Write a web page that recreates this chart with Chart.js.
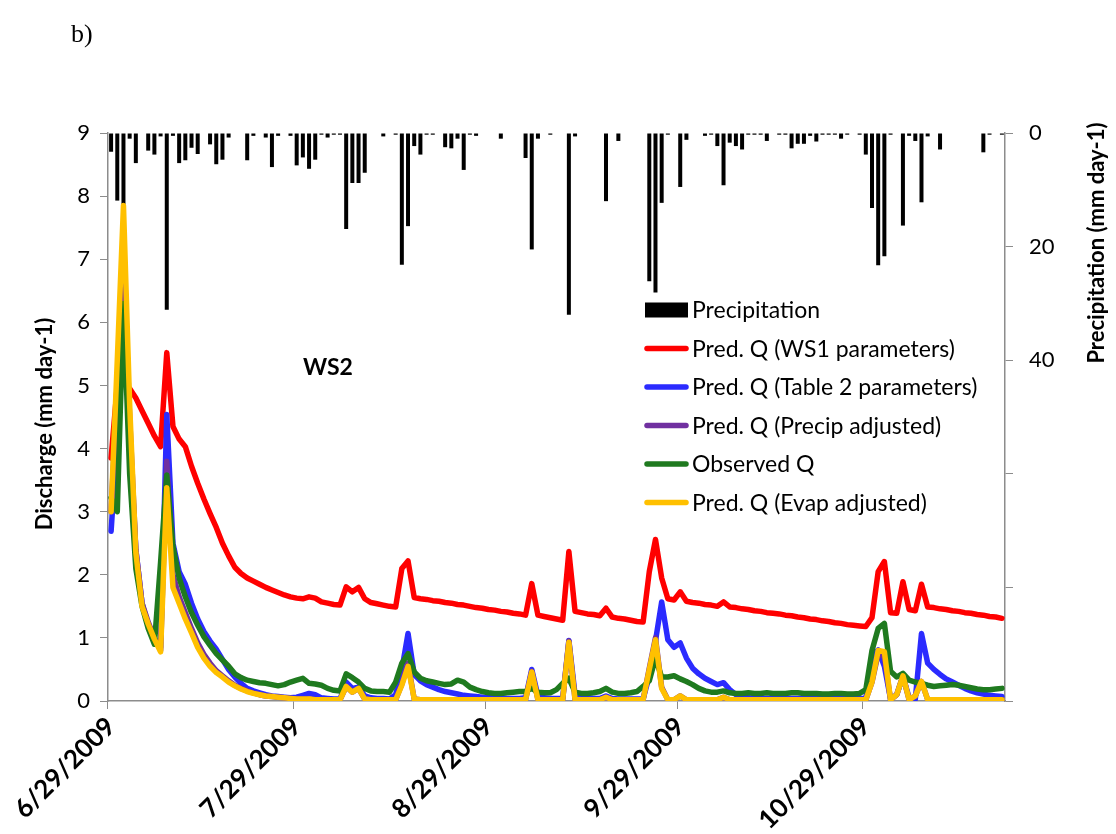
<!DOCTYPE html>
<html>
<head>
<meta charset="utf-8">
<script src="https://cdn.jsdelivr.net/npm/chart.js@4.4.1/dist/chart.umd.min.js"></script>
<style>
  body { margin: 0; background: #fff; }
  #wrap { position: relative; width: 1116px; height: 834px; }
</style>
</head>
<body>
<div id="wrap"><canvas id="chart"></canvas></div>
<script>
// daily series, 6/29/2009 (day 0) to 11/20/2009 (day 144)
const startYear = 2009, startMonth = 5, startDay = 29;
const tickLabels = ['6/29/2009', '7/29/2009', '8/29/2009', '9/29/2009', '10/29/2009'];

const precip = [
  3.3, 11.9, 12.6, 1.0, 5.3, 0, 3.1, 3.8, 0.6, 31.1,
  0.5, 5.3, 4.8, 2.6, 3.7, 0, 2.0, 5.5, 4.7, 0.8,
  0, 0, 4.8, 0.5, 0, 0.8, 6.0, 0.5, 0, 0.5,
  5.7, 4.3, 6.3, 4.7, 0.3, 0.8, 0.3, 0.3, 16.9, 8.8,
  8.8, 7.0, 0, 0, 0.6, 0, 0.3, 23.2, 16.4, 2.3,
  3.8, 0.3, 0.3, 0, 2.5, 2.7, 1.0, 6.5, 0.3, 0.5,
  0, 0, 0, 1.0, 0, 0, 0, 4.4, 20.5, 1.0,
  0, 0.3, 0, 0, 32.0, 0.6, 0, 0, 0, 0,
  12.0, 0, 1.4, 0, 0, 0, 0, 26.1, 28.1, 12.3,
  0.3, 0, 9.5, 1.2, 0, 0, 0.5, 0.3, 2.3, 9.2,
  1.7, 2.3, 2.9, 0.3, 0.3, 0.3, 1.4, 0, 0.3, 0.3,
  2.7, 1.9, 1.9, 0.5, 1.5, 0.3, 0.3, 0.3, 1.0, 0.3,
  0, 0.3, 3.8, 13.2, 23.3, 21.7, 0.3, 0, 16.3, 0.5,
  1.4, 12.2, 0.6, 0, 2.9, 0, 0, 0, 0, 0,
  0, 3.4, 0.3, 0, 0.3
];

const predWS1 = [
  3.85, 5.0, 5.05, 4.95, 4.8, 4.6, 4.4, 4.2, 4.03, 5.52,
  4.35, 4.15, 4.03, 3.72, 3.45, 3.2, 2.97, 2.75, 2.5, 2.3,
  2.12, 2.02, 1.95, 1.9, 1.85, 1.8, 1.76, 1.72, 1.68, 1.65,
  1.63, 1.62, 1.65, 1.63, 1.57, 1.55, 1.53, 1.52, 1.81, 1.73,
  1.8, 1.62, 1.56, 1.54, 1.52, 1.5, 1.49, 2.1, 2.22, 1.64,
  1.62, 1.61, 1.59, 1.58, 1.56, 1.55, 1.53, 1.52, 1.5, 1.48,
  1.47, 1.45, 1.44, 1.42, 1.41, 1.39, 1.38, 1.36, 1.86, 1.36,
  1.34, 1.32, 1.3, 1.28, 2.37, 1.42, 1.4, 1.38, 1.37, 1.35,
  1.47, 1.33, 1.31, 1.3, 1.28, 1.26, 1.25, 2.05, 2.56, 1.95,
  1.62, 1.6, 1.73, 1.58, 1.56, 1.55, 1.53, 1.52, 1.5, 1.57,
  1.49, 1.48, 1.46, 1.45, 1.43, 1.42, 1.4, 1.39, 1.38, 1.36,
  1.35, 1.33, 1.32, 1.3, 1.29, 1.27, 1.26, 1.24, 1.23, 1.21,
  1.2, 1.19, 1.18, 1.32, 2.05, 2.21, 1.4, 1.39, 1.89, 1.45,
  1.43, 1.85, 1.49, 1.48, 1.46, 1.45, 1.43, 1.42, 1.4, 1.39,
  1.37, 1.36, 1.34, 1.33, 1.31
];

const predTable2 = [
  2.69, 4.2, 6.3, 4.2, 2.4, 1.55, 1.2, 0.95, 0.85, 4.54,
  2.5, 2.05, 1.85, 1.55, 1.3, 1.1, 0.95, 0.82, 0.66, 0.5,
  0.38, 0.28, 0.2, 0.16, 0.13, 0.1, 0.08, 0.07, 0.06, 0.05,
  0.06, 0.09, 0.12, 0.1, 0.05, 0.04, 0.03, 0.03, 0.3, 0.2,
  0.22, 0.08, 0.05, 0.04, 0.04, 0.03, 0.1, 0.5, 1.07, 0.42,
  0.32, 0.26, 0.22, 0.18, 0.15, 0.13, 0.11, 0.09, 0.08, 0.07,
  0.06, 0.05, 0.05, 0.05, 0.04, 0.04, 0.04, 0.05, 0.5, 0.08,
  0.05, 0.04, 0.04, 0.04, 0.96, 0.1, 0.06, 0.05, 0.04, 0.04,
  0.08, 0.04, 0.03, 0.03, 0.03, 0.03, 0.03, 0.4, 0.95, 1.57,
  0.97, 0.85, 0.92, 0.68, 0.52, 0.43, 0.36, 0.31, 0.26, 0.29,
  0.18, 0.1, 0.07, 0.05, 0.04, 0.04, 0.04, 0.04, 0.04, 0.04,
  0.04, 0.04, 0.04, 0.04, 0.04, 0.04, 0.04, 0.04, 0.04, 0.04,
  0.04, 0.04, 0.04, 0.71, 0.81, 0.55, 0.03, 0.1, 0.39, 0.05,
  0.03, 1.07, 0.6, 0.5, 0.42, 0.35, 0.3, 0.25, 0.2, 0.16,
  0.13, 0.11, 0.09, 0.08, 0.07
];

const predPrecipAdj = [
  3.0, 5.0, 7.0, 4.5, 2.4, 1.55, 1.25, 1.0, 0.8, 3.8,
  2.0, 1.65, 1.4, 1.15, 0.92, 0.74, 0.6, 0.48, 0.4, 0.32,
  0.25, 0.2, 0.16, 0.13, 0.1, 0.08, 0.07, 0.06, 0.05, 0.04,
  0.03, 0.03, 0.03, 0.02, 0.02, 0.02, 0.02, 0.02, 0.23, 0.14,
  0.2, 0.03, 0.02, 0.02, 0.02, 0.02, 0.02, 0.27, 0.6, 0.03,
  0.02, 0.02, 0.02, 0.02, 0.02, 0.02, 0.02, 0.02, 0.02, 0.02,
  0.02, 0.02, 0.02, 0.02, 0.02, 0.02, 0.02, 0.02, 0.47, 0.02,
  0.02, 0.02, 0.02, 0.02, 0.95, 0.02, 0.02, 0.02, 0.02, 0.02,
  0.06, 0.02, 0.02, 0.02, 0.02, 0.02, 0.02, 0.52, 1.0, 0.22,
  0.02, 0.02, 0.08, 0.02, 0.02, 0.02, 0.02, 0.02, 0.02, 0.06,
  0.02, 0.02, 0.02, 0.02, 0.02, 0.02, 0.02, 0.02, 0.02, 0.02,
  0.02, 0.02, 0.02, 0.02, 0.02, 0.02, 0.02, 0.02, 0.02, 0.02,
  0.02, 0.02, 0.02, 0.3, 0.75, 0.7, 0.02, 0.1, 0.4, 0.02,
  0.08, 0.31, 0.02, 0.02, 0.02, 0.02, 0.02, 0.02, 0.02, 0.02,
  0.02, 0.02, 0.02, 0.02, 0.02
];

const observedQ = [
  3.22, 3.0, 6.3, 3.6, 2.1, 1.5, 1.15, 0.9, 2.2, 3.58,
  2.45, 1.95, 1.65, 1.4, 1.2, 1.02, 0.88, 0.75, 0.65, 0.55,
  0.43, 0.37, 0.33, 0.31, 0.29, 0.28, 0.26, 0.24, 0.26, 0.3,
  0.33, 0.36, 0.28, 0.27, 0.25, 0.2, 0.17, 0.16, 0.43, 0.37,
  0.3, 0.2, 0.16, 0.15, 0.15, 0.14, 0.3, 0.6, 0.75, 0.46,
  0.36, 0.32, 0.3, 0.28, 0.26, 0.27, 0.33, 0.3, 0.22, 0.18,
  0.15, 0.13, 0.12, 0.12, 0.13, 0.14, 0.15, 0.15, 0.2, 0.14,
  0.13, 0.13, 0.18, 0.28, 0.36, 0.14, 0.12, 0.12, 0.13, 0.15,
  0.2, 0.14, 0.12, 0.12, 0.13, 0.15, 0.23, 0.32, 0.68, 0.38,
  0.38, 0.4, 0.35, 0.31, 0.26, 0.2, 0.16, 0.14, 0.14, 0.16,
  0.13, 0.12, 0.12, 0.13, 0.12, 0.12, 0.13, 0.12, 0.12, 0.12,
  0.13, 0.13, 0.12, 0.12, 0.12, 0.11, 0.11, 0.12, 0.12, 0.11,
  0.11, 0.12, 0.18, 0.8, 1.15, 1.23, 0.47, 0.38, 0.44, 0.33,
  0.3, 0.28, 0.25, 0.23, 0.24, 0.25, 0.26, 0.25, 0.23, 0.21,
  0.19, 0.18, 0.18, 0.19, 0.2
];

const predEvapAdj = [
  3.0, 5.4, 7.85, 4.7, 2.35, 1.5, 1.22, 0.98, 0.78, 3.38,
  1.8, 1.55, 1.3, 1.08, 0.85, 0.68, 0.55, 0.45, 0.38, 0.3,
  0.24, 0.19, 0.15, 0.12, 0.1, 0.08, 0.07, 0.06, 0.05, 0.04,
  0.03, 0.03, 0.03, 0.02, 0.02, 0.02, 0.02, 0.02, 0.23, 0.14,
  0.2, 0.03, 0.02, 0.02, 0.02, 0.02, 0.02, 0.25, 0.55, 0.03,
  0.02, 0.02, 0.02, 0.02, 0.02, 0.02, 0.02, 0.02, 0.02, 0.02,
  0.02, 0.02, 0.02, 0.02, 0.02, 0.02, 0.02, 0.02, 0.46, 0.02,
  0.02, 0.02, 0.02, 0.02, 0.93, 0.02, 0.02, 0.02, 0.02, 0.02,
  0.06, 0.02, 0.02, 0.02, 0.02, 0.02, 0.02, 0.5, 0.97, 0.2,
  0.02, 0.02, 0.08, 0.02, 0.02, 0.02, 0.02, 0.02, 0.02, 0.06,
  0.02, 0.02, 0.02, 0.02, 0.02, 0.02, 0.02, 0.02, 0.02, 0.02,
  0.02, 0.02, 0.02, 0.02, 0.02, 0.02, 0.02, 0.02, 0.02, 0.02,
  0.02, 0.02, 0.02, 0.3, 0.8, 0.78, 0.02, 0.1, 0.4, 0.02,
  0.08, 0.31, 0.02, 0.02, 0.02, 0.02, 0.02, 0.02, 0.02, 0.02,
  0.02, 0.02, 0.02, 0.02, 0.02
];

// one category per day
const dates = [];
for (let i = 0; i < precip.length; i++) {
  const d = new Date(startYear, startMonth, startDay + i);
  dates.push((d.getMonth() + 1) + '/' + d.getDate() + '/' + d.getFullYear());
}

const FONT = 'Lato, "Open Sans", sans-serif';
const axisGrey = '#8c8c8c';

function lineSet(label, data, color, order) {
  return {
    type: 'line',
    label: label,
    data: data,
    borderColor: color,
    backgroundColor: color,
    borderWidth: 5.5,
    pointRadius: 0,
    tension: 0,
    borderJoinStyle: 'round',
    borderCapStyle: 'round',
    yAxisID: 'y',
    order: order
  };
}

// legend + free text drawn on top of the plot
const overlay = {
  id: 'overlay',
  afterDraw(chart) {
    const ctx = chart.ctx;
    ctx.save();
    ctx.fillStyle = '#000';
    ctx.textBaseline = 'middle';

    // legend
    const rowY = 310, rowStep = 38.5, x0 = 645, x1 = 688;
    chart.data.datasets.forEach((ds, i) => {
      const y = rowY + i * rowStep;
      if (ds.type === 'bar') {
        ctx.fillStyle = '#000';
        ctx.fillRect(x0, y - 7.5, x1 - x0, 15);
      } else {
        ctx.strokeStyle = ds.borderColor;
        ctx.lineWidth = 5.5;
        ctx.lineCap = 'round';
        ctx.beginPath();
        ctx.moveTo(x0 + 2, y);
        ctx.lineTo(x1 - 2, y);
        ctx.stroke();
      }
      ctx.fillStyle = '#000';
      ctx.font = '23px ' + FONT;
      ctx.textAlign = 'left';
      ctx.fillText(ds.label, 692, y + 1);
    });

    // WS2 tag
    ctx.font = 'bold 23px ' + FONT;
    ctx.fillText('WS2', 303, 368);

    // panel letter
    ctx.font = '26px "Liberation Serif", serif';
    ctx.fillText('b)', 71, 35);

    // axis titles, both read bottom to top
    ctx.font = 'bold 22px ' + FONT;
    ctx.textAlign = 'center';
    ctx.translate(45, 424);
    ctx.rotate(-Math.PI / 2);
    ctx.fillText('Discharge (mm day-1)', 0, 0);
    ctx.setTransform(1, 0, 0, 1, 0, 0);
    ctx.translate(1097, 243);
    ctx.rotate(-Math.PI / 2);
    ctx.fillText('Precipitation (mm day-1)', 0, 0);
    ctx.restore();
  }
};

new Chart(document.getElementById('chart'), {
  data: {
    labels: dates,
    datasets: [
      {
        type: 'bar',
        label: 'Precipitation',
        data: precip,
        backgroundColor: '#000',
        barThickness: 4,
        inflateAmount: 0,
        yAxisID: 'y1',
        order: 6
      },
      lineSet('Pred. Q (WS1 parameters)', predWS1, '#ff0000', 5),
      lineSet('Pred. Q (Table 2 parameters)', predTable2, '#2b2bff', 4),
      lineSet('Pred. Q (Precip adjusted)', predPrecipAdj, '#7030a0', 3),
      lineSet('Observed Q', observedQ, '#1f7a1f', 2),
      lineSet('Pred. Q (Evap adjusted)', predEvapAdj, '#ffc000', 1)
    ]
  },
  options: {
    responsive: true,
    maintainAspectRatio: false,
    animation: false,
    layout: { padding: { top: 133, left: 0, right: 0, bottom: 0 } },
    plugins: {
      legend: { display: false },
      tooltip: { enabled: false }
    },
    scales: {
      x: {
        type: 'category',
        offset: true,
        afterFit: s => { s.height = 133; },
        grid: {
          offset: true,
          drawOnChartArea: false,
          tickLength: 8,
          color: axisGrey,
          tickColor: c => (c.index < dates.length && tickLabels.includes(dates[c.index])) ? axisGrey : 'rgba(0,0,0,0)'
        },
        border: { display: true, color: axisGrey, width: 1.5 },
        ticks: {
          autoSkip: false,
          maxRotation: 45,
          minRotation: 45,
          padding: 2,
          color: '#000',
          font: { family: FONT, size: 26, weight: 'bold' },
          callback: (v, i) => tickLabels.includes(dates[i]) ? dates[i] : ''
        }
      },
      y: {
        position: 'left',
        min: 0,
        max: 9,
        afterFit: s => { s.width = 108; },
        grid: { drawOnChartArea: false, tickLength: 8, color: axisGrey },
        border: { display: true, color: axisGrey, width: 1.5 },
        ticks: {
          stepSize: 1,
          padding: 10,
          color: '#000',
          font: { family: FONT, size: 22 }
        }
      },
      y1: {
        position: 'right',
        reverse: true,
        min: 0,
        max: 100,
        afterFit: s => { s.width = 111; },
        grid: { drawOnChartArea: false, tickLength: 8, color: axisGrey },
        border: { display: true, color: axisGrey, width: 1.5 },
        ticks: {
          stepSize: 20,
          padding: 16,
          color: '#000',
          font: { family: FONT, size: 22 },
          callback: v => v <= 40 ? v : ''
        }
      }
    }
  },
  plugins: [overlay]
});
</script>
</body>
</html>
